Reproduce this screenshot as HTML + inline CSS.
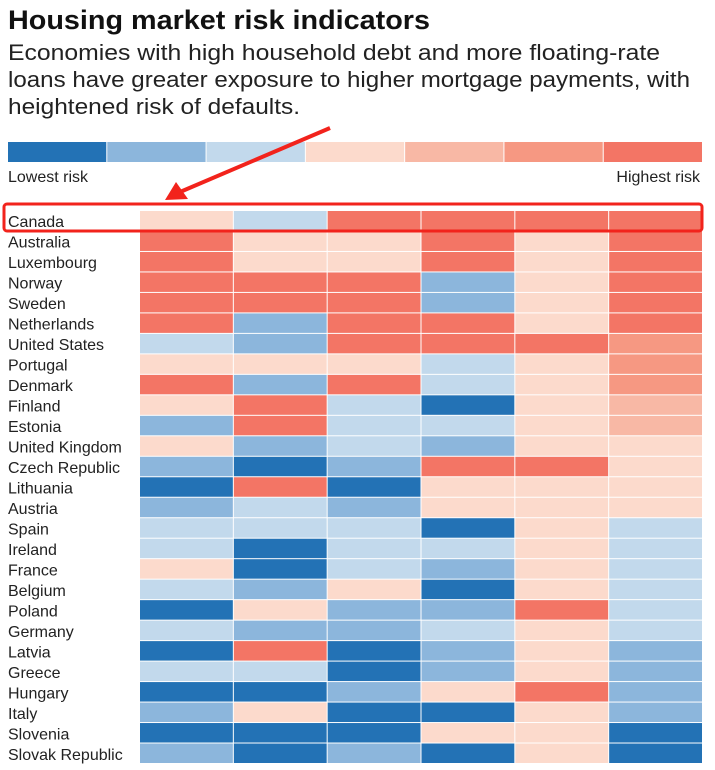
<!DOCTYPE html>
<html><head><meta charset="utf-8"><style>
body{margin:0;background:#fff;width:715px;height:765px;overflow:hidden;font-family:"Liberation Sans",sans-serif;}
</style></head><body>
<svg width="715" height="765" id="svg">
<text x="8" y="29" font-size="27" font-weight="bold" fill="#111" textLength="422" lengthAdjust="spacingAndGlyphs">Housing market risk indicators</text>
<text x="8" y="60" font-size="22" fill="#222" textLength="652" lengthAdjust="spacingAndGlyphs">Economies with high household debt and more floating-rate</text>
<text x="8" y="87" font-size="22" fill="#222" textLength="682" lengthAdjust="spacingAndGlyphs">loans have greater exposure to higher mortgage payments, with</text>
<text x="8" y="114" font-size="22" fill="#222" textLength="292" lengthAdjust="spacingAndGlyphs">heightened risk of defaults.</text>
<g id="legend"></g>
<text x="8" y="182" font-size="16" fill="#222">Lowest risk</text>
<text x="700" y="182" font-size="16" fill="#222" text-anchor="end">Highest risk</text>
<g id="heat"></g>
<rect x="4" y="204" width="698" height="27" rx="3" fill="none" stroke="#f2231c" stroke-width="3"/>
<line x1="330" y1="128" x2="180" y2="192" stroke="#f2231c" stroke-width="4"/>
<polygon points="165,200 176,182 188,199" fill="#f2231c"/>
</svg>
<script>
const palette=["#2372b5","#8cb6dc","#c2d9ec","#fcdacc","#f8b8a5","#f69882","#f37565"];
const countries=["Canada","Australia","Luxembourg","Norway","Sweden","Netherlands","United States","Portugal","Denmark","Finland","Estonia","United Kingdom","Czech Republic","Lithuania","Austria","Spain","Ireland","France","Belgium","Poland","Germany","Latvia","Greece","Hungary","Italy","Slovenia","Slovak Republic"];
const riskLevels=[
[3,2,6,6,6,6],[6,3,3,6,3,6],[6,3,3,6,3,6],[6,6,6,1,3,6],[6,6,6,1,3,6],[6,1,6,6,3,6],[2,1,6,6,6,5],
[3,3,3,2,3,5],[6,1,6,2,3,5],[3,6,2,0,3,4],[1,6,2,2,3,4],[3,1,2,1,3,3],[1,0,1,6,6,3],[0,6,0,3,3,3],
[1,2,1,3,3,3],[2,2,2,0,3,2],[2,0,2,2,3,2],[3,0,2,1,3,2],[2,1,3,0,3,2],[0,3,1,1,6,2],[2,1,1,2,3,2],
[0,6,0,1,3,1],[2,2,0,1,3,1],[0,0,1,3,6,1],[1,3,0,0,3,1],[0,0,0,3,3,0],[1,0,1,0,3,0]];
const NS="http://www.w3.org/2000/svg";
const x0=140,cw=(703-140)/6,y0=211,rh=(764-211)/countries.length;
const xPos=c=>x0+c*cw, yPos=r=>y0+r*rh;
const lg=document.getElementById('legend');
const lw=(703-8)/palette.length;
palette.forEach((col,i)=>{const r=document.createElementNS(NS,'rect');
r.setAttribute('x',8+i*lw);r.setAttribute('y',142);r.setAttribute('width',lw-1);r.setAttribute('height',20);r.setAttribute('fill',col);


lg.appendChild(r);});
const hg=document.getElementById('heat');
countries.forEach((name,r)=>{
const t=document.createElementNS(NS,'text');t.setAttribute('x',8);t.setAttribute('y',yPos(r)+rh/2+6);t.setAttribute('font-size',16);t.setAttribute('fill','#222');t.textContent=name;


hg.appendChild(t);
riskLevels[r].forEach((v,c)=>{const e=document.createElementNS(NS,'rect');
e.setAttribute('x',xPos(c));e.setAttribute('y',yPos(r));e.setAttribute('width',cw-1);e.setAttribute('height',rh-1);e.setAttribute('fill',palette[v]);


hg.appendChild(e);});
});
</script>
</body></html>
